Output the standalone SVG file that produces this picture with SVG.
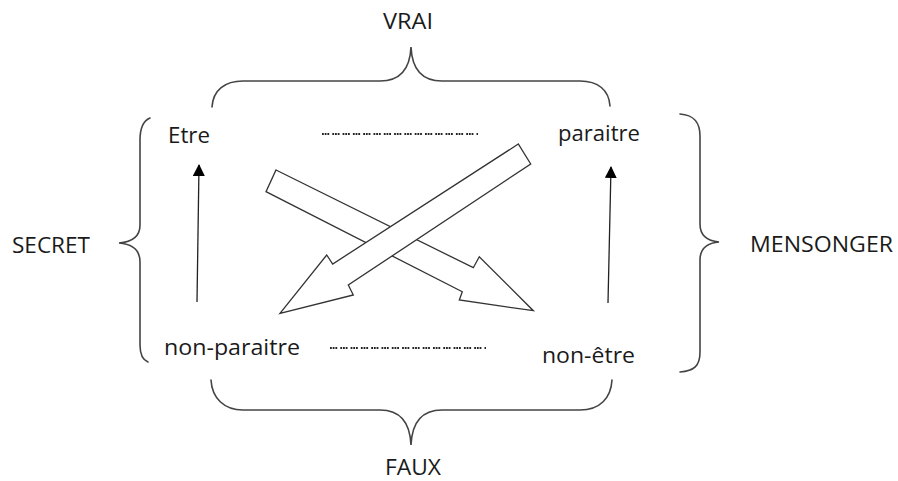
<svg xmlns="http://www.w3.org/2000/svg" width="898" height="481" viewBox="0 0 898 481">
<defs>
<style>
.t{font-family:"Open Sans","Liberation Sans",sans-serif;font-size:21px;fill:#1a1a1a}
.br{fill:none;stroke:#444;stroke-width:1.6;stroke-linecap:round}
.dots{fill:none;stroke:#222;stroke-width:2;stroke-dasharray:1.8 0.9 1.8 0.9 1.8 3.1}
.ln{fill:none;stroke:#222;stroke-width:1.3}
.big{fill:#fff;stroke:#333;stroke-width:1.3;stroke-linejoin:miter}
</style>
<marker id="ah" viewBox="0 0 12 12" refX="11" refY="6" markerWidth="12" markerHeight="12" markerUnits="userSpaceOnUse" orient="auto">
<path d="M0,0 L12,6 L0,12 Z" fill="#000"/>
</marker>
</defs>
<rect width="898" height="481" fill="#fff"/>
<g id="brace-vrai"><path class="br" d="M212,107 C213,90 225,81 243,81 L380,81 C400,81 410,70 411,47 C412,70 422,81 442,81 L580,81 C598,81 609,90 610,106"/></g>
<g id="brace-faux"><path class="br" d="M211,380 C212,398 224,410 243,410 L380,410 C400,410 410,422 411,445 C412,422 422,410 442,410 L580,410 C600,410 611,398 612,380"/></g>
<g id="brace-secret"><path class="br" d="M150,118 C143,121 140,128 140,140 L140,225 C140,236 132,242 119,243 C132,244 140,250 140,262 L140,345 C140,355 143,360 148,362"/></g>
<g id="brace-mensonger"><path class="br" d="M680,114 C694,115 700,122 700,136 L700,224 C700,236 708,241 719,242 C708,243 700,248 700,260 L700,352 C700,366 694,371 680,372"/></g>
<g id="label-vrai"><text class="t" x="383" y="29" textLength="50" lengthAdjust="spacingAndGlyphs">VRAI</text></g>
<g id="label-faux"><text class="t" x="385" y="475" textLength="56" lengthAdjust="spacingAndGlyphs">FAUX</text></g>
<g id="label-secret"><text class="t" x="12" y="253" textLength="78" lengthAdjust="spacingAndGlyphs">SECRET</text></g>
<g id="label-mensonger"><text class="t" x="750" y="252" textLength="143" lengthAdjust="spacingAndGlyphs">MENSONGER</text></g>
<g id="node-etre"><text class="t" x="168" y="143" textLength="42" lengthAdjust="spacingAndGlyphs">Etre</text></g>
<g id="node-paraitre"><text class="t" x="558" y="141" textLength="82" lengthAdjust="spacingAndGlyphs">paraitre</text></g>
<g id="node-non-paraitre"><text class="t" x="164" y="355" textLength="136" lengthAdjust="spacingAndGlyphs">non-paraitre</text></g>
<g id="node-non-etre"><text class="t" x="542" y="363" textLength="93" lengthAdjust="spacingAndGlyphs">non-être</text></g>
<g id="connectors">
<path class="dots" d="M322,134 L478,134"/>
<path class="dots" d="M330,348 L486,348"/>
<path class="ln" d="M197,302 L199,165" marker-end="url(#ah)"/>
<path class="ln" d="M608,303 L611,167" marker-end="url(#ah)"/>
<path class="big" d="M276,170 L473.3,267.7 L479.3,256.7 L533.3,310.7 L459.3,300 L462.3,291.7 L266,191.7 Z"/>
<path class="big" d="M518.3,144 L332.7,264 L326.7,255 L280,313.3 L353.3,295 L348.3,285 L530.7,164 Z"/>
</g>
</svg>
